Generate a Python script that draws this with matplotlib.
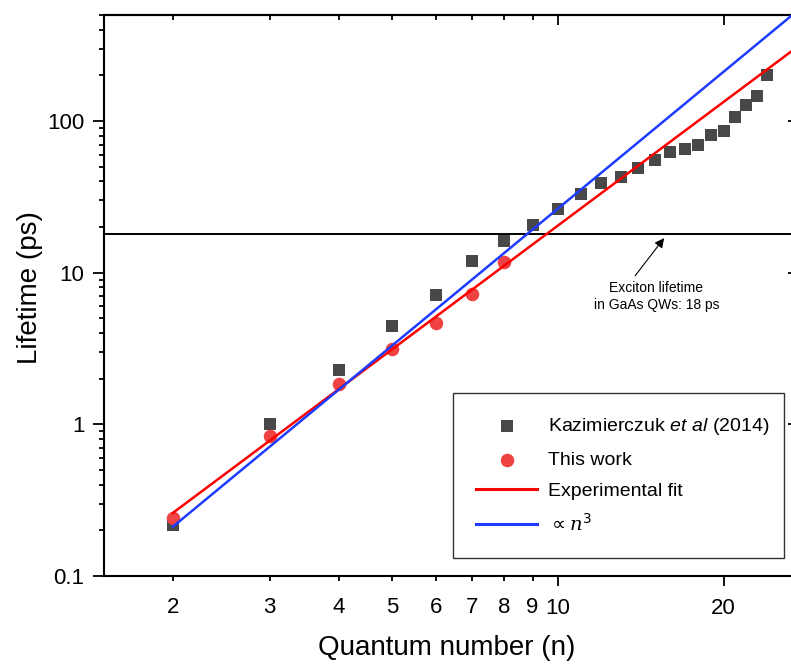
"""Exciton lifetime vs quantum number, log-log."""

import matplotlib
matplotlib.use("Agg")
import matplotlib.pyplot as plt
import numpy as np
from matplotlib.ticker import FixedLocator, FixedFormatter, NullFormatter

plt.rcParams["font.family"] = ["Liberation Sans", "DejaVu Sans"]
plt.rcParams["mathtext.fontset"] = "custom"
plt.rcParams["mathtext.rm"] = "DejaVu Sans"
plt.rcParams["mathtext.sf"] = "Liberation Sans:italic"
plt.rcParams["mathtext.it"] = "DejaVu Serif:italic"

# Kazimierczuk et al (2014)
kaz_n = [2, 3, 4, 5, 6, 7, 8, 9, 10, 11, 12, 13, 14, 15, 16, 17, 18, 19, 20, 21, 22, 23, 24]
kaz_tau = [0.217, 1.0, 2.28, 4.45, 7.13, 11.9, 16.2, 20.6, 26.3, 33.0, 39.0, 42.7, 49.0,
           55.3, 62.5, 64.9, 69.5, 80.9, 85.9, 106, 127, 146, 201]

# this work
our_n = [2, 3, 4, 5, 6, 7, 8]
our_tau = [0.241, 0.84, 1.85, 3.14, 4.66, 7.24, 11.8]

# fits: tau = A * n^p
fit_amp, fit_pow = 0.0398, 2.71
cube_amp, cube_pow = 0.0264, 3.0
fit_range = (2, 30)

exciton_tau = 18

x_minor_ticks = [2, 3, 4, 5, 6, 7, 8, 9]
x_major_ticks = [10, 20]
y_major_ticks = [0.1, 1, 10, 100]
y_major_labels = ["0.1", "1", "10", "100"]

fig = plt.figure(figsize=(7.91, 6.66), dpi=100)
ax = fig.add_axes([104 / 791, 1 - 576 / 666, 694 / 791, 561 / 666])
ax.set_xscale("log")
ax.set_yscale("log")
ax.set_xlim(1.5, 27.3)
ax.set_ylim(0.1, 500)

ax.scatter(kaz_n, kaz_tau, marker="s", s=80, color="#484848", linewidths=0,
           label=r"Kazimierczuk $\mathsf{et\ al}$ (2014)", zorder=2)
ax.scatter(our_n, our_tau, marker="o", s=95, color="#EF4242", linewidths=0,
           label="This work", zorder=3)

n_line = np.geomspace(*fit_range, 60)
ax.plot(n_line, fit_amp * n_line ** fit_pow, color="#FF0000", lw=1.8,
        label="Experimental fit", zorder=4)
ax.plot(n_line, cube_amp * n_line ** cube_pow, color="#1E3CFF", lw=1.8,
        label=r"$\propto n^3$", zorder=5)
ax.axhline(exciton_tau, color="black", lw=1.4, zorder=1)

ax.annotate("Exciton lifetime\nin GaAs QWs: 18 ps", xy=(15.6, 16.9), xytext=(15.1, 7.0),
            ha="center", va="center", fontsize=10, linespacing=1.25,
            arrowprops=dict(arrowstyle="-|>", color="black", lw=0.8,
                            mutation_scale=14, relpos=(0.3, 1.0), shrinkA=2, shrinkB=0))

# ticks
ax.xaxis.set_major_locator(FixedLocator(x_major_ticks))
ax.xaxis.set_major_formatter(FixedFormatter([str(v) for v in x_major_ticks]))
ax.xaxis.set_minor_locator(FixedLocator(x_minor_ticks))
ax.xaxis.set_minor_formatter(FixedFormatter([str(v) for v in x_minor_ticks]))
ax.yaxis.set_major_locator(FixedLocator(y_major_ticks))
ax.yaxis.set_major_formatter(FixedFormatter(y_major_labels))
y_minor = [m * d for d in [0.1, 1, 10, 100] for m in range(2, 10)]
ax.yaxis.set_minor_locator(FixedLocator(y_minor))
ax.yaxis.set_minor_formatter(NullFormatter())

ax.tick_params(which="both", direction="out", width=1.3, labelsize=16, colors="black")
ax.tick_params(axis="x", which="major", length=7.5, pad=8)
ax.tick_params(axis="x", which="minor", length=3.6, pad=11.5, labelsize=16)
ax.tick_params(axis="y", which="major", length=8, pad=6)
ax.tick_params(axis="y", which="minor", length=3.6)
for sp in ax.spines.values():
    sp.set_linewidth(1.5)

top = ax.secondary_xaxis("top")
top.xaxis.set_major_locator(FixedLocator(x_major_ticks))
top.xaxis.set_minor_locator(FixedLocator(x_minor_ticks))
top.tick_params(which="both", direction="in", width=1.3, labeltop=False)
top.tick_params(which="major", length=7.5)
top.tick_params(which="minor", length=3.6)
top.spines["top"].set_linewidth(1.5)

right = ax.secondary_yaxis("right")
right.yaxis.set_major_locator(FixedLocator(y_major_ticks))
right.yaxis.set_minor_locator(FixedLocator(y_minor))
right.tick_params(which="both", direction="in", width=1.3, labelright=False)
right.tick_params(which="major", length=7.5)
right.tick_params(which="minor", length=3.6)

ax.set_xlabel("Quantum number (n)", fontsize=20)
ax.set_ylabel("Lifetime (ps)", fontsize=20)
ax.xaxis.set_label_coords(0.494, -0.105)
ax.yaxis.set_label_coords(-0.088, 0.515)

leg = ax.legend(loc="lower left", bbox_to_anchor=(0.503, 0.032, 0.477, 0.294),
                mode="expand", fontsize=14, frameon=True, fancybox=False,
                edgecolor="black", borderpad=1.2, labelspacing=0.7,
                handlelength=3.1, handletextpad=0.6, borderaxespad=0)
leg.get_frame().set_linewidth(1.0)
for line in leg.get_lines():
    line.set_linewidth(2.2)

fig.savefig("out.png", dpi=100)
